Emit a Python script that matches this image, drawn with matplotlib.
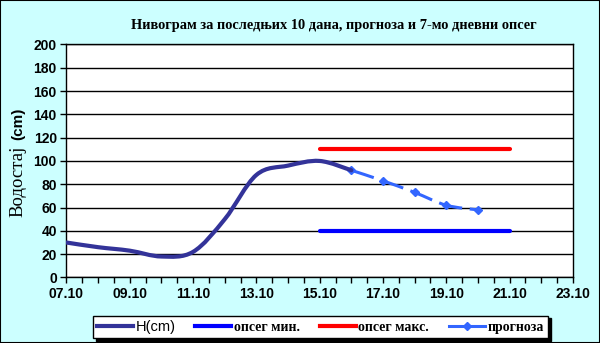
import numpy as np
import pandas as pd
import matplotlib
matplotlib.use('Agg')
import matplotlib.pyplot as plt
import matplotlib.dates as mdates
from matplotlib.path import Path
from matplotlib.patches import PathPatch, Rectangle
from matplotlib.lines import Line2D

# измерени водостај
h_dates = ['07.10', '08.10', '09.10', '10.10', '11.10', '12.10', '13.10', '14.10', '15.10', '16.10']
h_values = [30, 26, 23, 18, 22, 50, 88, 96, 100, 92]

# прогноза
fc_dates = ['16.10', '17.10', '18.10', '19.10', '20.10']
fc_values = [92, 83, 73, 62, 58]

# 7-мо дневни опсег
band_dates = ['15.10', '21.10']
band_min = [40, 40]
band_max = [110, 110]

x_limits = ['07.10', '23.10']
x_labels = ['07.10', '09.10', '11.10', '13.10', '15.10', '17.10', '19.10', '21.10', '23.10']


def to_num(dates):
    # година се не види на графику
    return mdates.date2num(pd.to_datetime([d + '.2000' for d in dates], format='%d.%m.%Y'))


def smooth_path(x, y):
    """Глатка линија као у Excel-у (Безјеове криве кроз тачке)."""
    pts = np.column_stack([x, y]).astype(float)
    n = len(pts)
    verts = [pts[0]]
    codes = [Path.MOVETO]
    for i in range(n - 1):
        p0 = pts[max(i - 1, 0)]
        p1 = pts[i]
        p2 = pts[i + 1]
        p3 = pts[min(i + 2, n - 1)]
        verts += [p1 + (p2 - p0) / 6, p2 - (p3 - p1) / 6, p2]
        codes += [Path.CURVE4] * 3
    return Path(verts, codes)


plt.rcParams['lines.scale_dashes'] = False

fig = plt.figure(figsize=(6, 3.43), dpi=100)
fig.patch.set_facecolor('#ccffff')
fig.patches.append(Rectangle((0, 0), 1, 1, transform=fig.transFigure,
                             fill=False, edgecolor='black', lw=1.5, zorder=10))

ax = fig.add_axes([0.1108, 0.191, 0.844, 0.6795])
ax.set_facecolor('white')

xh = to_num(h_dates)
xf = to_num(fc_dates)
xb = to_num(band_dates)

ax.plot(xb, band_min, color='#0000ff', lw=3, solid_capstyle='round', zorder=3)
ax.plot(xb, band_max, color='#ff0000', lw=3, solid_capstyle='round', zorder=3)

fc_patch = PathPatch(smooth_path(xf, fc_values), facecolor='none', edgecolor='#3366ff',
                     lw=2.2, linestyle=(0, (17, 5.5)), zorder=4)
ax.add_patch(fc_patch)
ax.plot(xf, fc_values, linestyle='none', marker='D', markersize=4,
        color='#3366ff', zorder=4)

h_patch = PathPatch(smooth_path(xh, h_values), facecolor='none', edgecolor='#333399',
                    lw=3, capstyle='round', zorder=5)
ax.add_patch(h_patch)

xl = to_num(x_limits)
ax.set_xlim(xl[0], xl[1])
ax.set_ylim(0, 200)
ax.set_yticks(np.arange(0, 201, 20))
ax.set_xticks(to_num(x_labels))
ax.set_xticklabels(x_labels)
ax.set_xticks(np.arange(xl[0], xl[1] + 0.01, 0.5), minor=True)
ax.yaxis.grid(True, color='black', lw=1)
ax.set_axisbelow(True)
for s in ax.spines.values():
    s.set_color('black')
    s.set_linewidth(1)
ax.tick_params(axis='both', which='both', direction='out', length=4, width=1, color='black')
ax.tick_params(axis='both', which='major', pad=3)
for lab in ax.get_xticklabels() + ax.get_yticklabels():
    lab.set_fontfamily('Liberation Sans')
    lab.set_fontweight('bold')
    lab.set_fontsize(10)

fig.text(0.557, 0.926, 'Нивограм за последњих 10 дана, прогноза и 7-мо дневни опсег',
         ha='center', va='center', fontsize=10.4, fontweight='bold', family='Liberation Serif')

fig.text(0.03, 0.472, 'Водостај', rotation=90, ha='center', va='center',
         fontsize=13.5, family='Liberation Serif')
fig.text(0.03, 0.638, '(cm)', rotation=90, ha='center', va='center',
         fontsize=11, fontweight='bold', family='Liberation Sans')

handles = [
    Line2D([], [], color='#333399', lw=3),
    Line2D([], [], color='#0000ff', lw=3),
    Line2D([], [], color='#ff0000', lw=3),
    Line2D([], [], color='#3366ff', lw=2.2, marker='D', markersize=4, markevery=[1]),
]
labels = ['H(cm)', 'опсег мин.', 'опсег макс.', 'прогноза']
leg = fig.legend(handles, labels, loc='center', bbox_to_anchor=(0.534, 0.047), ncol=4,
                 prop={'family': 'Liberation Serif', 'weight': 'bold', 'size': 10},
                 frameon=True, fancybox=False, edgecolor='black', framealpha=1,
                 shadow={'color': 'black', 'alpha': 1}, handlelength=2.6,
                 columnspacing=1.4, handletextpad=0.2, borderpad=0.3)
leg.get_frame().set_linewidth(1)
leg.get_texts()[0].set_fontfamily('Liberation Sans')
leg.get_texts()[0].set_fontweight('normal')
leg.get_texts()[0].set_fontsize(10.5)

fig.savefig('out.png', dpi=100, facecolor=fig.get_facecolor())
